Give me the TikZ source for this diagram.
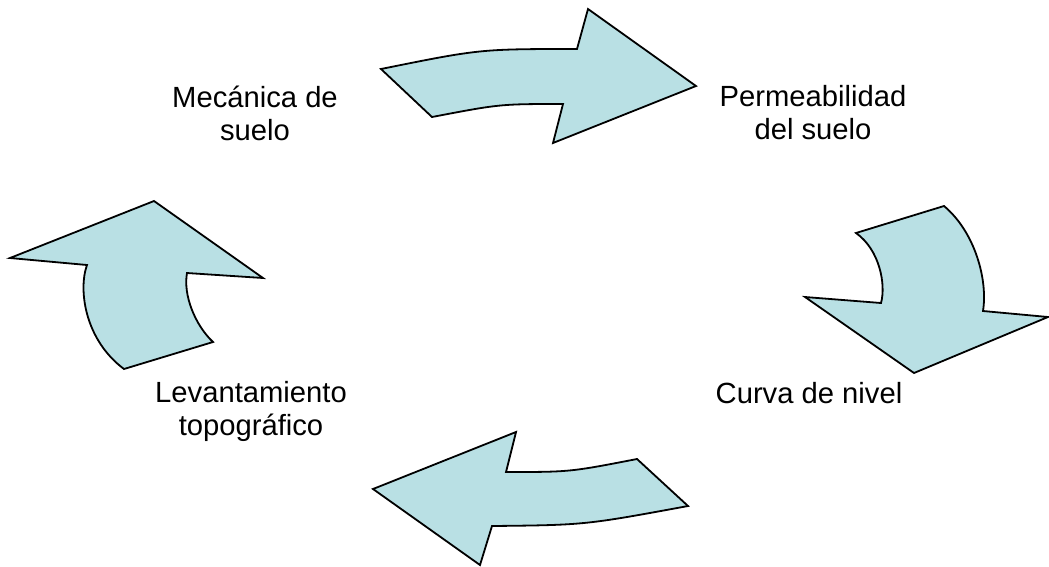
\documentclass[tikz,border=0pt]{standalone}
\usepackage{fontspec}
\setmainfont{Liberation Sans}
\definecolor{arrowfill}{RGB}{185,224,228}

\begin{document}
\begin{tikzpicture}[x=1pt, y=-1pt,
  bigarrow/.style={draw=black, fill=arrowfill, line width=1.8pt, line join=miter},
  label/.style={align=center, font=\fontsize{29.2}{33}\selectfont, inner sep=0pt}]
\useasboundingbox (0,0) rectangle (1049,566);
% top arrow
\draw[bigarrow] (381,69) .. controls (480,49) .. (577,49) -- (588,9) -- (696,86)
  -- (553,143) -- (563,104) .. controls (500,104) .. (432,117) -- cycle;
% right arrow
\draw[bigarrow] (856,233) -- (944,206) .. controls (975,232) and (988,280) .. (983,311)
  -- (1048,317) -- (914,373) -- (805,297) -- (881,303)
  .. controls (886,285) and (880,250) .. (856,233) -- cycle;
% bottom arrow
\draw[bigarrow] (637,459) .. controls (570,472) .. (506,472) -- (516,432) -- (373,489)
  -- (480,565) -- (492,526) .. controls (585,525) .. (688,506) -- cycle;
% left arrow
\draw[bigarrow] (124,369) .. controls (85,340) and (78,290) .. (87,265) -- (10,258)
  -- (154,201) -- (263,278) -- (187,273) .. controls (183,295) and (195,325) .. (213,342)
  -- cycle;
% labels
\node[label] (mecanica) at (255,113) {Mecánica de\\suelo};
\node[label] (permeab) at (813,113) {Permeabilidad\\del suelo};
\node[label] (curva) at (809,393) {Curva de nivel};
\node[label] (levant) at (251,411) {Levantamiento\\topográfico};
\end{tikzpicture}
\end{document}
